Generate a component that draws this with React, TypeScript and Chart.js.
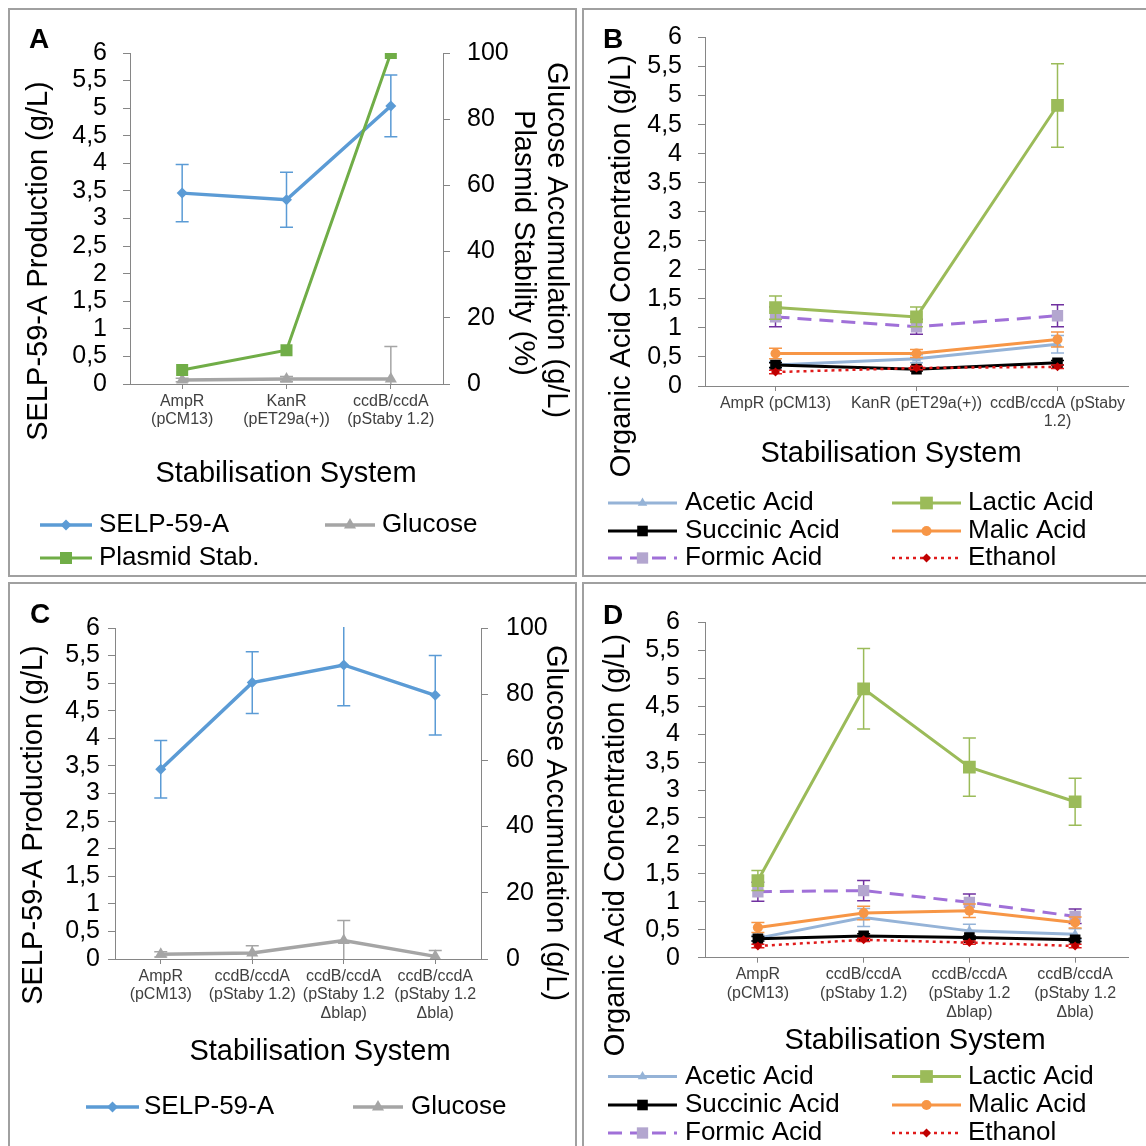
import React, { useEffect, useRef } from 'react';
import { Chart, registerables } from 'chart.js';

Chart.register(...registerables);

const FONT = "'Liberation Sans', Arial, Helvetica, sans-serif";
const AXIS = '#868686';

// ---------------- data ----------------
const categoriesA = [['AmpR', '(pCM13)'], ['KanR', '(pET29a(+))'], ['ccdB/ccdA', '(pStaby 1.2)']];
const categoriesB = [['AmpR (pCM13)'], ['KanR (pET29a(+))'], ['ccdB/ccdA (pStaby', '1.2)']];
const categoriesCD = [
  ['AmpR', '(pCM13)'],
  ['ccdB/ccdA', '(pStaby 1.2)'],
  ['ccdB/ccdA', '(pStaby 1.2', 'Δblap)'],
  ['ccdB/ccdA', '(pStaby 1.2', 'Δbla)'],
];

// Panel A
const selpA = [3.46, 3.34, 5.04];
const selpAErr = [0.52, 0.5, 0.56];
const plasmidA = [4.2, 10.2, 100];
const glucoseA = [1.2, 1.5, 1.5];
const glucoseAErr = [0.5, 0.8, 9.8];

// Panel B
const aceticB = [0.36, 0.47, 0.72];
const aceticBErr = [0.06, 0.07, 0.15];
const lacticB = [1.35, 1.19, 4.83];
const lacticBErr = [0.2, 0.17, 0.72];
const succinicB = [0.36, 0.29, 0.4];
const succinicBErr = [0.04, 0.03, 0.04];
const malicB = [0.56, 0.56, 0.8];
const malicBErr = [0.09, 0.07, 0.13];
const formicB = [1.19, 1.02, 1.21];
const formicBErr = [0.17, 0.13, 0.19];
const ethanolB = [0.24, 0.31, 0.33];
const ethanolBErr = [0.03, 0.03, 0.03];

// Panel C
const selpC = [3.44, 5.01, 5.33, 4.78];
const selpCErr = [0.52, 0.56, 0.74, 0.72];
const glucoseC = [1.4, 1.8, 5.6, 0.8];
const glucoseCErr = [0.8, 2.2, 6.0, 1.8];

// Panel D
const aceticD = [0.35, 0.72, 0.48, 0.42];
const aceticDErr = [0.05, 0.16, 0.12, 0.1];
const lacticD = [1.38, 4.81, 3.41, 2.79];
const lacticDErr = [0.18, 0.72, 0.52, 0.42];
const succinicD = [0.34, 0.39, 0.36, 0.32];
const succinicDErr = [0.04, 0.04, 0.03, 0.03];
const malicD = [0.54, 0.8, 0.84, 0.63];
const malicDErr = [0.09, 0.12, 0.12, 0.1];
const formicD = [1.18, 1.2, 0.99, 0.74];
const formicDErr = [0.17, 0.18, 0.15, 0.13];
const ethanolD = [0.21, 0.32, 0.27, 0.21];
const ethanolDErr = [0.03, 0.03, 0.03, 0.03];

// axis ranges
const leftAxis = { min: 0, max: 6, step: 0.5 };
const rightAxis = { min: 0, max: 100, step: 20 };

// ---------------- styles ----------------
const STYLES: Record<string, any> = {
  selp: { label: 'SELP-59-A', color: '#5B9BD5', width: 3.5, point: 'rectRot', r: 5.5, fill: '#5B9BD5', err: '#5B9BD5' },
  plasmid: { label: 'Plasmid Stab.', color: '#70AD47', width: 3, point: 'rect', r: 8.5, fill: '#70AD47', err: '#70AD47' },
  glucose: { label: 'Glucose', color: '#A5A5A5', width: 3.5, point: 'triangle', r: 7, fill: '#A5A5A5', err: '#A5A5A5' },
  acetic: { label: 'Acetic Acid', color: '#95B3D7', width: 3, point: 'triangle', r: 5.5, fill: '#95B3D7', err: '#95B3D7' },
  lactic: { label: 'Lactic Acid', color: '#9BBB59', width: 3, point: 'rect', r: 9, fill: '#9BBB59', err: '#9BBB59' },
  succinic: { label: 'Succinic Acid', color: '#000000', width: 3, point: 'rect', r: 7.5, fill: '#000000', err: '#000000' },
  malic: { label: 'Malic Acid', color: '#F79646', width: 3, point: 'circle', r: 5, fill: '#F79646', err: '#F79646' },
  formic: { label: 'Formic Acid', color: '#A070D8', width: 3, dash: [14, 8], point: 'rect', r: 8, fill: '#B3A6CF', err: '#7030A0' },
  ethanol: { label: 'Ethanol', color: '#E01B1B', width: 2.5, dash: [3, 4], point: 'rectRot', r: 4.5, fill: '#C00000', err: '#E01B1B' },
};

const colB = [{ x1: 608, x2: 677, tx: 685 }, { x1: 892, x2: 961, tx: 968 }];

const PANELS: any[] = [
  {
    rect: { x: 8, y: 8, w: 569, h: 569 },
    area: { l: 130, r: 443, t: 53, b: 384 },
    categories: categoriesA,
    y2: true, leftPad: 16, rightPad: 17,
    series: [
      { key: 'plasmid', data: plasmidA, axis: 'y2' },
      { key: 'selp', data: selpA, err: selpAErr, axis: 'y' },
      { key: 'glucose', data: glucoseA, err: glucoseAErr, axis: 'y2' },
    ],
    texts: [
      { text: 'A', x: 29, y: 48, size: 28, bold: true, align: 'left', baseline: 'alphabetic' },
      { text: 'SELP-59-A Production (g/L)', x: 39, y: 261, rot: -90, size: 29 },
      { text: 'Glucose Accumulation (g/L)', x: 556, y: 240, rot: 90, size: 29 },
      { text: 'Plasmid Stability (%)', x: 523, y: 243, rot: 90, size: 29 },
      { text: 'Stabilisation System', x: 286, y: 474, size: 29 },
    ],
    legend: [
      { key: 'selp', x1: 40, x2: 92, tx: 99, y: 525 },
      { key: 'glucose', x1: 325, x2: 375, tx: 382, y: 525 },
      { key: 'plasmid', x1: 40, x2: 92, tx: 99, y: 558 },
    ],
  },
  {
    rect: { x: 582, y: 8, w: 570, h: 569 },
    area: { l: 705, r: 1128, t: 37.5, b: 386 },
    categories: categoriesB,
    y2: false, leftPad: 16,
    series: [
      { key: 'ethanol', data: ethanolB, err: ethanolBErr, axis: 'y' },
      { key: 'succinic', data: succinicB, err: succinicBErr, axis: 'y' },
      { key: 'malic', data: malicB, err: malicBErr, axis: 'y' },
      { key: 'acetic', data: aceticB, err: aceticBErr, axis: 'y' },
      { key: 'lactic', data: lacticB, err: lacticBErr, axis: 'y' },
      { key: 'formic', data: formicB, err: formicBErr, axis: 'y' },
    ],
    texts: [
      { text: 'B', x: 603, y: 48, size: 28, bold: true, align: 'left', baseline: 'alphabetic' },
      { text: 'Organic Acid Concentration (g/L)', x: 622, y: 266, rot: -90, size: 29 },
      { text: 'Stabilisation System', x: 891, y: 454, size: 29 },
    ],
    legend: [
      { key: 'acetic', ...colB[0], y: 503 },
      { key: 'lactic', ...colB[1], y: 503 },
      { key: 'succinic', ...colB[0], y: 531 },
      { key: 'malic', ...colB[1], y: 531 },
      { key: 'formic', ...colB[0], y: 558 },
      { key: 'ethanol', ...colB[1], y: 558 },
    ],
  },
  {
    rect: { x: 8, y: 582, w: 569, h: 570 },
    area: { l: 115, r: 481, t: 628, b: 959 },
    categories: categoriesCD,
    y2: true, leftPad: 8, rightPad: 18,
    series: [
      { key: 'selp', data: selpC, err: selpCErr, axis: 'y' },
      { key: 'glucose', data: glucoseC, err: glucoseCErr, axis: 'y2' },
    ],
    texts: [
      { text: 'C', x: 30, y: 623, size: 28, bold: true, align: 'left', baseline: 'alphabetic' },
      { text: 'SELP-59-A Production (g/L)', x: 34, y: 825, rot: -90, size: 29 },
      { text: 'Glucose Accumulation (g/L)', x: 555, y: 823, rot: 90, size: 29 },
      { text: 'Stabilisation System', x: 320, y: 1052, size: 29 },
    ],
    legend: [
      { key: 'selp', x1: 86, x2: 139, tx: 144, y: 1107 },
      { key: 'glucose', x1: 353, x2: 403, tx: 411, y: 1107 },
    ],
  },
  {
    rect: { x: 582, y: 582, w: 570, h: 570 },
    area: { l: 705, r: 1128, t: 622.3, b: 957.7 },
    categories: categoriesCD,
    y2: false, leftPad: 18,
    series: [
      { key: 'ethanol', data: ethanolD, err: ethanolDErr, axis: 'y' },
      { key: 'succinic', data: succinicD, err: succinicDErr, axis: 'y' },
      { key: 'malic', data: malicD, err: malicDErr, axis: 'y' },
      { key: 'acetic', data: aceticD, err: aceticDErr, axis: 'y' },
      { key: 'lactic', data: lacticD, err: lacticDErr, axis: 'y' },
      { key: 'formic', data: formicD, err: formicDErr, axis: 'y' },
    ],
    texts: [
      { text: 'D', x: 603, y: 624, size: 28, bold: true, align: 'left', baseline: 'alphabetic' },
      { text: 'Organic Acid Concentration (g/L)', x: 616, y: 845, rot: -90, size: 29 },
      { text: 'Stabilisation System', x: 915, y: 1041, size: 29 },
    ],
    legend: [
      { key: 'acetic', ...colB[0], y: 1076.5 },
      { key: 'lactic', ...colB[1], y: 1076.5 },
      { key: 'succinic', ...colB[0], y: 1105 },
      { key: 'malic', ...colB[1], y: 1105 },
      { key: 'formic', ...colB[0], y: 1133 },
      { key: 'ethanol', ...colB[1], y: 1133 },
    ],
  },
];

// ---------------- helpers ----------------
function drawMarker(ctx: CanvasRenderingContext2D, style: string, r: number, x: number, y: number) {
  ctx.beginPath();
  if (style === 'circle') {
    ctx.arc(x, y, r, 0, Math.PI * 2);
  } else if (style === 'rect') {
    const s = r * Math.SQRT1_2;
    ctx.rect(x - s, y - s, 2 * s, 2 * s);
  } else if (style === 'rectRot') {
    ctx.moveTo(x - r, y);
    ctx.lineTo(x, y - r);
    ctx.lineTo(x + r, y);
    ctx.lineTo(x, y + r);
    ctx.closePath();
  } else if (style === 'triangle') {
    let a = 0;
    ctx.moveTo(x + Math.sin(a) * r, y - Math.cos(a) * r);
    a += (2 * Math.PI) / 3;
    ctx.lineTo(x + Math.sin(a) * r, y - Math.cos(a) * r);
    a += (2 * Math.PI) / 3;
    ctx.lineTo(x + Math.sin(a) * r, y - Math.cos(a) * r);
    ctx.closePath();
  }
  ctx.fill();
}

const errorBarPlugin = {
  id: 'errorBars',
  beforeDatasetDraw(chart: any, args: any) {
    const ds: any = chart.data.datasets[args.index];
    if (!ds.errors) return;
    const ys = chart.scales[ds.yAxisID];
    const a = chart.chartArea;
    const ctx: CanvasRenderingContext2D = chart.ctx;
    ctx.save();
    ctx.beginPath();
    ctx.rect(a.left, a.top - 1, a.right - a.left, a.bottom - a.top + 1);
    ctx.clip();
    ctx.setLineDash([]);
    ctx.strokeStyle = ds.errColor;
    ctx.lineWidth = 1.5;
    args.meta.data.forEach((pt: any, i: number) => {
      const e = ds.errors[i];
      if (!e) return;
      const v = ds.data[i];
      const yt = ys.getPixelForValue(v + e);
      const yb = ys.getPixelForValue(v - e);
      const x = pt.x;
      ctx.beginPath();
      ctx.moveTo(x, yt);
      ctx.lineTo(x, yb);
      ctx.moveTo(x - 6.5, yt);
      ctx.lineTo(x + 6.5, yt);
      ctx.moveTo(x - 6.5, yb);
      ctx.lineTo(x + 6.5, yb);
      ctx.stroke();
    });
    ctx.restore();
  },
};

function decorPlugin(p: any) {
  const ox = p.rect.x;
  const oy = p.rect.y;
  return {
    id: 'decor',
    afterDraw(chart: any) {
      const ctx: CanvasRenderingContext2D = chart.ctx;
      // texts
      p.texts.forEach((t: any) => {
        ctx.save();
        ctx.font = `${t.bold ? 'bold ' : ''}${t.size}px ${FONT}`;
        ctx.fillStyle = '#000';
        ctx.textAlign = t.align || 'center';
        ctx.textBaseline = t.baseline || 'middle';
        ctx.translate(t.x - ox, t.y - oy);
        if (t.rot) ctx.rotate((t.rot * Math.PI) / 180);
        ctx.fillText(t.text, 0, 0);
        ctx.restore();
      });
      // legend
      p.legend.forEach((it: any) => {
        const st = STYLES[it.key];
        const y = it.y - oy;
        ctx.save();
        ctx.strokeStyle = st.color;
        ctx.lineWidth = st.width;
        ctx.setLineDash(st.dash || []);
        ctx.beginPath();
        ctx.moveTo(it.x1 - ox, y);
        ctx.lineTo(it.x2 - ox, y);
        ctx.stroke();
        ctx.setLineDash([]);
        ctx.fillStyle = st.fill;
        drawMarker(ctx, st.point, st.r, (it.x1 + it.x2) / 2 - ox, y);
        ctx.fillStyle = '#000';
        ctx.font = `26px ${FONT}`;
        ctx.textAlign = 'left';
        ctx.textBaseline = 'middle';
        ctx.fillText(st.label, it.tx - ox, y);
        ctx.restore();
      });
    },
  };
}

const fmt = (v: any) => String(v).replace('.', ',');

function makeConfig(p: any): any {
  const ox = p.rect.x;
  const oy = p.rect.y;
  const leftW = p.area.l - ox;
  const rightW = p.rect.w - (p.area.r - ox);
  const bottomH = p.rect.h - (p.area.b - oy);
  const topPad = p.area.t - oy;

  const datasets = p.series.map((s: any) => {
    const st = STYLES[s.key];
    return {
      label: st.label,
      data: s.data,
      errors: s.err,
      errColor: st.err,
      yAxisID: s.axis,
      borderColor: st.color,
      backgroundColor: st.fill,
      borderWidth: st.width,
      borderDash: st.dash || [],
      pointStyle: st.point,
      pointRadius: st.r,
      pointHoverRadius: st.r,
      pointBackgroundColor: st.fill,
      pointBorderColor: st.fill,
      pointBorderWidth: 0,
      tension: 0,
      fill: false,
    };
  });

  const scales: any = {
    x: {
      type: 'category',
      offset: true,
      grid: { display: true, drawOnChartArea: false, drawTicks: true, tickLength: 5, color: AXIS, offset: false },
      border: { display: true, color: AXIS, width: 1 },
      ticks: {
        autoSkip: false,
        maxRotation: 0,
        minRotation: 0,
        padding: 3,
        color: '#404040',
        font: { family: FONT, size: 16, lineHeight: 1.17 },
      },
      afterFit: (s: any) => {
        s.height = bottomH;
      },
    },
    y: {
      type: 'linear',
      position: 'left',
      min: leftAxis.min,
      max: leftAxis.max,
      grid: { display: true, drawOnChartArea: false, drawTicks: true, tickLength: 7, color: AXIS },
      border: { display: true, color: AXIS, width: 1 },
      ticks: {
        stepSize: leftAxis.step,
        autoSkip: false,
        padding: p.leftPad,
        color: '#000',
        font: { family: FONT, size: 25, lineHeight: 1 },
        callback: fmt,
      },
      afterFit: (s: any) => {
        s.width = leftW;
      },
    },
  };
  if (p.y2) {
    scales.y2 = {
      type: 'linear',
      position: 'right',
      min: rightAxis.min,
      max: rightAxis.max,
      grid: { display: true, drawOnChartArea: false, drawTicks: true, tickLength: 7, color: AXIS },
      border: { display: true, color: AXIS, width: 1 },
      ticks: {
        stepSize: rightAxis.step,
        autoSkip: false,
        padding: p.rightPad,
        color: '#000',
        font: { family: FONT, size: 25, lineHeight: 1 },
        callback: fmt,
      },
      afterFit: (s: any) => {
        s.width = rightW;
      },
    };
  }

  return {
    type: 'line',
    data: { labels: p.categories, datasets },
    options: {
      responsive: false,
      maintainAspectRatio: false,
      devicePixelRatio: 1,
      animation: false,
      events: [],
      layout: { padding: { top: topPad, left: 0, bottom: 0, right: p.y2 ? 0 : rightW } },
      plugins: { legend: { display: false }, title: { display: false }, tooltip: { enabled: false } },
      scales,
    },
    plugins: [errorBarPlugin, decorPlugin(p)],
  };
}

function Panel({ p }: { p: any }) {
  const ref = useRef<HTMLCanvasElement | null>(null);
  useEffect(() => {
    if (!ref.current) return;
    const chart = new Chart(ref.current, makeConfig(p));
    return () => chart.destroy();
  }, [p]);
  return (
    <div style={{ position: 'absolute', left: p.rect.x, top: p.rect.y, width: p.rect.w, height: p.rect.h }}>
      <canvas
        ref={ref}
        width={p.rect.w}
        height={p.rect.h}
        style={{ display: 'block', width: p.rect.w, height: p.rect.h }}
      />
      <div
        style={{
          position: 'absolute',
          left: 0,
          top: 0,
          width: p.rect.w,
          height: p.rect.h,
          boxSizing: 'border-box',
          border: '2px solid #a0a0a0',
          pointerEvents: 'none',
        }}
      />
    </div>
  );
}

export default function App() {
  return (
    <div
      style={{
        position: 'absolute',
        left: 0,
        top: 0,
        width: 1146,
        height: 1146,
        overflow: 'hidden',
        background: '#fff',
      }}
    >
      {PANELS.map((p, i) => (
        <Panel key={i} p={p} />
      ))}
    </div>
  );
}
